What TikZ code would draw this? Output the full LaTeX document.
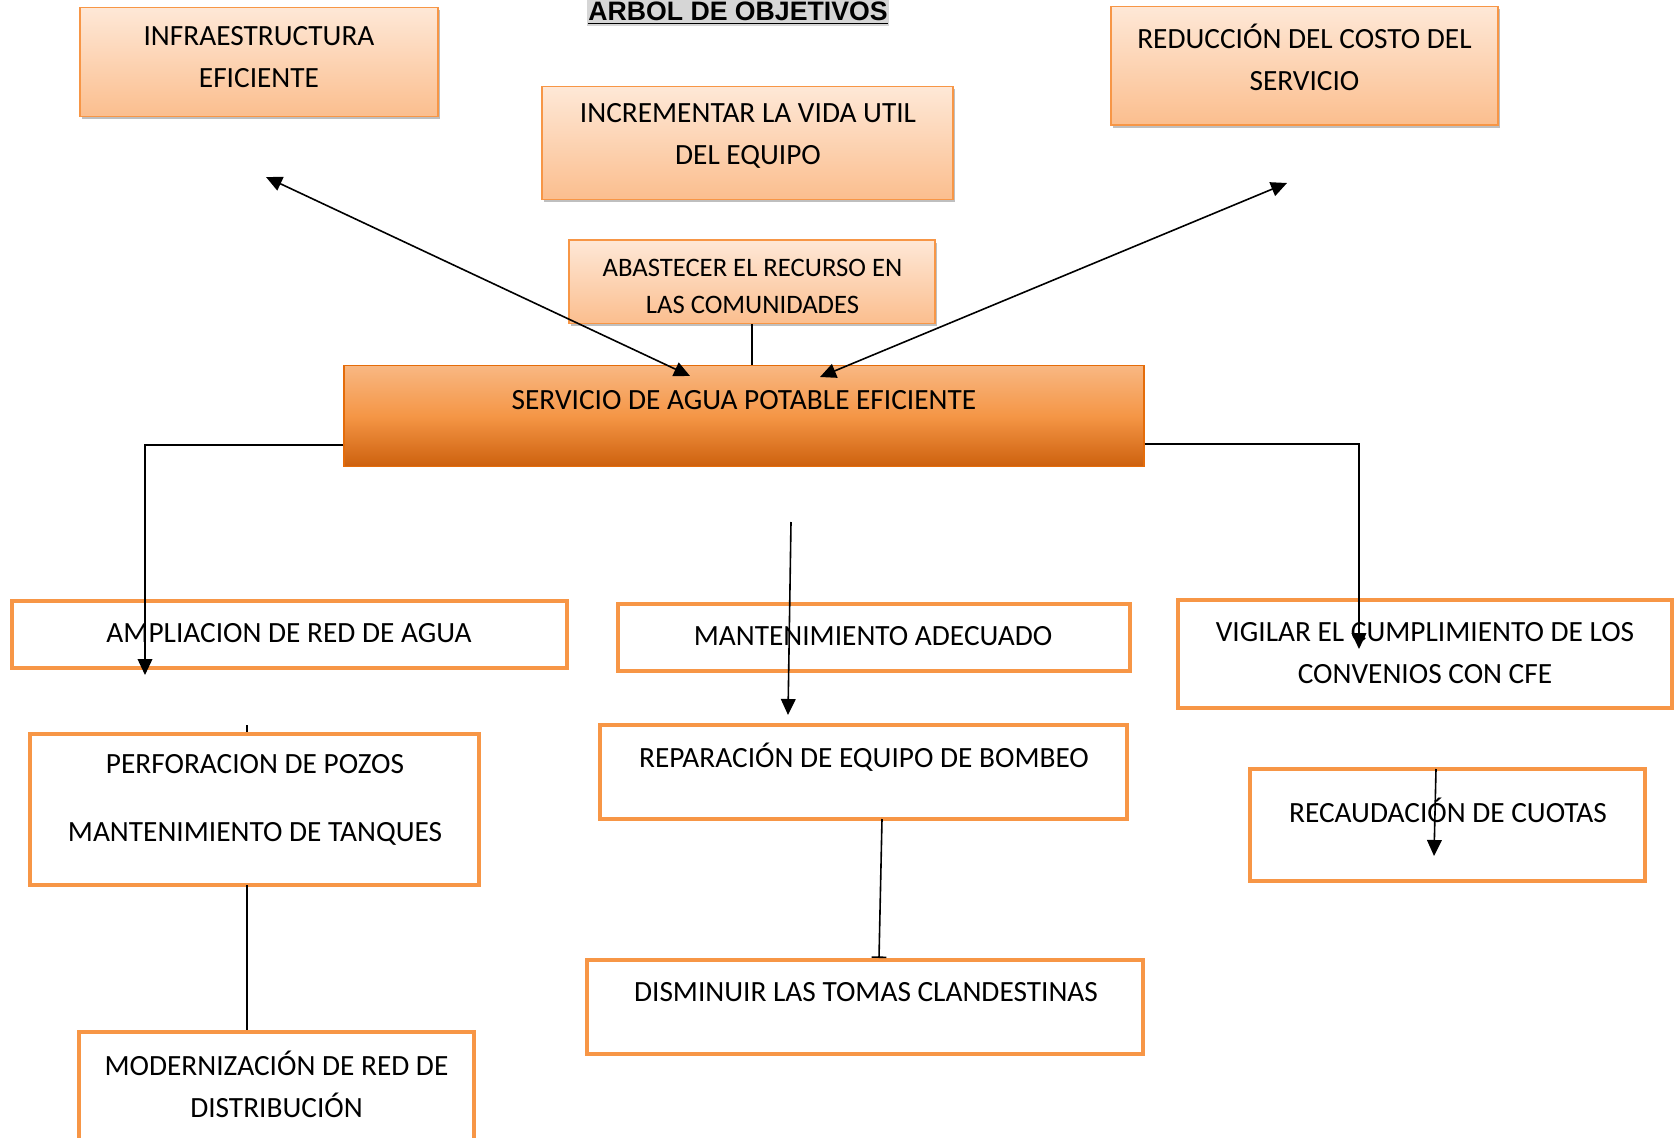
\documentclass[tikz,border=0pt]{standalone}
\usepackage{fontspec}
\setmainfont{Carlito}
\newfontfamily\titlefont{Liberation Sans}
\usetikzlibrary{arrows.meta,shadows}

\definecolor{boxorange}{RGB}{247,150,70}
\definecolor{peachtop}{RGB}{254,232,215}
\definecolor{peachbot}{RGB}{251,190,142}
\definecolor{servtop}{RGB}{248,183,130}
\definecolor{servmid}{RGB}{245,150,70}
\definecolor{servbot}{RGB}{205,97,14}
\definecolor{servline}{RGB}{228,108,10}
\definecolor{titlegray}{RGB}{214,214,214}

\tikzset{every picture/.style={line width=0.75pt},
  topbox/.style={draw=boxorange, line width=1.1pt, top color=peachtop, bottom color=peachbot,
    drop shadow={shadow xshift=1.5pt, shadow yshift=-2pt, fill=black, opacity=0.25}, inner sep=0pt},
  mainbox/.style={draw=servline, line width=0.9pt, top color=servtop, bottom color=servbot,
    middle color=servmid, inner sep=0pt},
  objbox/.style={draw=boxorange, line width=3pt, fill=white, inner sep=0pt},
  boxtext/.style={font=\fontsize{22}{31.5}\selectfont, align=center, inner sep=0pt},
  link/.style={line width=1.2pt},
  linkarrow/.style={link, -{Triangle[length=12pt,width=11pt]}},
  linkboth/.style={link, {Triangle[length=12pt,width=11pt]}-{Triangle[length=12pt,width=11pt]}},
}

\begin{document}
\begin{tikzpicture}[x=0.75pt,y=0.75pt,yscale=-1,xscale=1]
\useasboundingbox[fill=white] (0,0) rectangle (1674,1138);

% Title
\node [fill=titlegray, inner xsep=1pt, inner ysep=2pt, font=\titlefont\bfseries\fontsize{20}{24}\selectfont] (title) at (738,13) {\underline{ARBOL DE OBJETIVOS}};

%Shape: Rectangle (fines)
\node [topbox, minimum width=268.5pt, minimum height=82pt] (infra) at (259,62) {};
\node [topbox, minimum width=308.25pt, minimum height=85pt] (vida) at (747.5,143) {};
\node [topbox, minimum width=290.25pt, minimum height=89pt] (costo) at (1304.5,65.7) {};
\node [topbox, minimum width=274.5pt, minimum height=62.6pt] (abast) at (752,281.75) {};

%Shape: Rectangle (objetivo central)
\node [mainbox, minimum width=600pt, minimum height=75.4pt] (serv) at (744,416) {};

%Shape: Rectangle (medios)
\node [objbox, minimum width=416.25pt, minimum height=50.25pt] (ampl) at (289.5,634.5) {};
\node [objbox, minimum width=384pt, minimum height=50.6pt] (mant) at (874,637.75) {};
\node [objbox, minimum width=370.5pt, minimum height=81pt] (vigil) at (1425,654) {};
\node [objbox, minimum width=336.75pt, minimum height=112.9pt] (perf) at (254.5,809.75) {};
\node [objbox, minimum width=395.25pt, minimum height=70.5pt] (repar) at (863.5,772) {};
\node [objbox, minimum width=296.25pt, minimum height=84pt] (recaud) at (1447.5,825) {};
\node [objbox, minimum width=417pt, minimum height=70.5pt] (dismin) at (865,1007) {};
\node [objbox, minimum width=296.25pt, minimum height=88.5pt] (modern) at (276.5,1091) {};

% Text Node
\node [boxtext] (tInfra) at (259,57) {INFRAESTRUCTURA\\EFICIENTE};
% Text Node
\node [boxtext] (tVida) at (748,136) {INCREMENTAR LA VIDA UTIL\\DEL EQUIPO};
% Text Node
\node [boxtext] (tCosto) at (1304.5,57) {REDUCCIÓN DEL COSTO DEL\\SERVICIO};
% Text Node
\node [boxtext, font=\fontsize{20}{27.75}\selectfont] (tAbast) at (752.5,286.5) {ABASTECER EL RECURSO EN\\LAS COMUNIDADES};
% Text Node
\node [boxtext] (tServ) at (744,400) {SERVICIO DE AGUA POTABLE EFICIENTE};
% Text Node
\node [boxtext] (tAmpl) at (289,633) {AMPLIACION DE RED DE AGUA};
% Text Node
\node [boxtext] (tMant) at (873,636) {MANTENIMIENTO ADECUADO};
% Text Node
\node [boxtext] (tVigil) at (1425,653.5) {VIGILAR EL CUMPLIMIENTO DE LOS\\CONVENIOS CON CFE};
% Text Node
\node [boxtext, font=\fontsize{22}{51.4}\selectfont] (tPerf) at (255,800) {PERFORACION DE POZOS\\MANTENIMIENTO DE TANQUES};
% Text Node
\node [boxtext] (tRepar) at (864,757) {REPARACIÓN DE EQUIPO DE BOMBEO};
% Text Node
\node [boxtext] (tRecaud) at (1448,810) {RECAUDACIÓN DE CUOTAS};
% Text Node
\node [boxtext] (tDismin) at (866,992) {DISMINUIR LAS TOMAS CLANDESTINAS};
% Text Node
\node [boxtext] (tModern) at (276.5,1084) {MODERNIZACIÓN DE RED DE\\DISTRIBUCIÓN};

% free ends of the connectors
\coordinate (infraTip) at (266,177);
\coordinate (servTipL) at (690,376);
\coordinate (costoTip) at (1287,183);
\coordinate (servTipR) at (820,377);
\coordinate (amplTip) at (145,675);
\coordinate (vigilTip) at (1359,649);
\coordinate (mantStart) at (791,522);
\coordinate (reparTip) at (788,715);
\coordinate (perfTick) at (247,725);
\coordinate (perfLow) at (247,885);
\coordinate (reparLow) at (882,819);
\coordinate (disminTip) at (879,958);
\coordinate (recaudTop) at (1436,769);
\coordinate (recaudTip) at (1434,856);

%Straight Lines
\draw [linkboth] (infraTip) -- (servTipL);
\draw [linkboth] (costoTip) -- (servTipR);
\draw [link] (abast.south) -- (abast.south |- serv.north);
\draw [linkarrow] ([yshift=21.75pt]serv.west) -| (amplTip);
\draw [linkarrow] ([yshift=21pt]serv.east) -| (vigilTip);
\draw [linkarrow] (mantStart) -- (reparTip);
\draw [link] (perfTick) -- (perfTick |- perf.north);
\draw [link] (perfLow) -- (perfLow |- modern.north);
\draw [link, -{Bar[width=11pt]}] (reparLow) -- (disminTip);
\draw [linkarrow] (recaudTop) -- (recaudTip);

\end{tikzpicture}
\end{document}
